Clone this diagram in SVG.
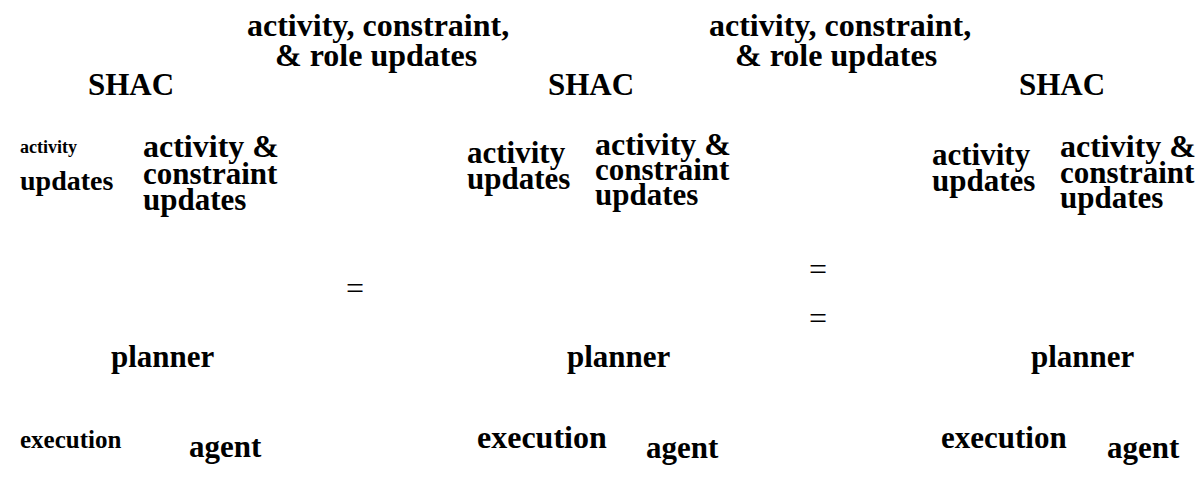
<svg xmlns="http://www.w3.org/2000/svg" width="1202" height="491" viewBox="0 0 1202 491">
<style>
.t{font-family:"Liberation Serif","Times New Roman",serif;font-weight:bold;fill:#000;font-size:31px}
.l{font-size:32px}
.eq{font-family:"Liberation Serif","Times New Roman",serif;font-weight:normal;fill:#000;font-size:32px}
</style>
<rect width="1202" height="491" fill="#fff"/>
<g id="edge-label-1"><text class="t l" x="247" y="36">activity, constraint,</text><text class="t l" x="275" y="66">&amp; role updates</text></g>
<g id="edge-label-2"><text class="t l" x="709" y="36">activity, constraint,</text><text class="t l" x="735" y="66">&amp; role updates</text></g>
<g id="shac-1"><text class="t" x="88" y="95">SHAC</text></g>
<g id="shac-2"><text class="t" x="548" y="95">SHAC</text></g>
<g id="shac-3"><text class="t" x="1019" y="95">SHAC</text></g>
<g id="label-1a"><text class="t" x="20" y="153" style="font-size:18px">activity</text><text class="t" x="20" y="190" style="font-size:28px">updates</text></g>
<g id="label-1b"><text class="t l" x="143" y="157">activity &amp;</text><text class="t" x="143" y="184">constraint</text><text class="t" x="143" y="210">updates</text></g>
<g id="label-2a"><text class="t" x="467" y="163">activity</text><text class="t" x="467" y="189">updates</text></g>
<g id="label-2b"><text class="t l" x="595" y="155">activity &amp;</text><text class="t" x="595" y="180">constraint</text><text class="t" x="595" y="205">updates</text></g>
<g id="label-3a"><text class="t" x="932" y="165">activity</text><text class="t" x="932" y="191">updates</text></g>
<g id="label-3b"><text class="t l" x="1060" y="157">activity &amp;</text><text class="t" x="1060" y="183">constraint</text><text class="t" x="1060" y="208">updates</text></g>
<g id="connectors">
<text class="eq" x="355" y="299" text-anchor="middle">=</text>
<text class="eq" x="818" y="280" text-anchor="middle">=</text>
<text class="eq" x="818" y="329" text-anchor="middle">=</text>
</g>
<g id="planner-1"><text class="t" x="111" y="367">planner</text></g>
<g id="planner-2"><text class="t" x="567" y="367">planner</text></g>
<g id="planner-3"><text class="t" x="1031" y="367">planner</text></g>
<g id="exec-1"><text class="t" x="20" y="448" style="font-size:25px">execution</text><text class="t" x="189" y="457">agent</text></g>
<g id="exec-2"><text class="t l" x="477" y="448">execution</text><text class="t" x="646" y="458">agent</text></g>
<g id="exec-3"><text class="t" x="941" y="448">execution</text><text class="t" x="1107" y="458">agent</text></g>
</svg>
